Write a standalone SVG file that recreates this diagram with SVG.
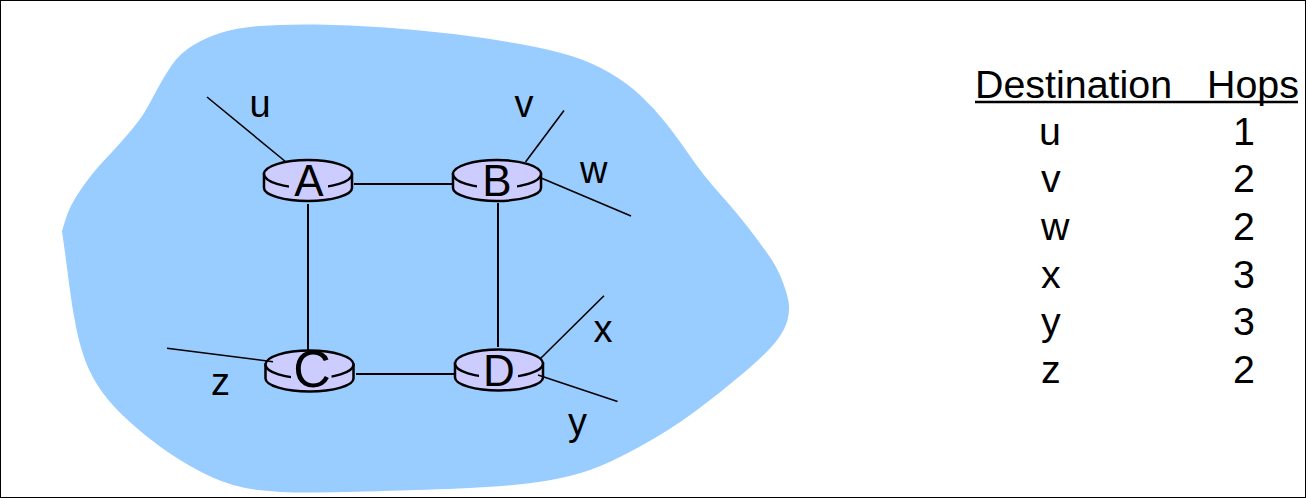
<svg xmlns="http://www.w3.org/2000/svg" width="1310" height="498" viewBox="0 0 1310 498">
<style>
text{font-family:"Liberation Sans",Arial,sans-serif;fill:#000}
.l{font-size:38px}
.r{font-size:44px;text-anchor:middle}
.t{font-size:39.4px}
.c line{stroke:#000;stroke-width:2}
.c line.s{stroke-width:1.6}
.body{fill:#ccccff;stroke:#000;stroke-width:2.5}
.hole{fill:#ccccff}
</style>
<defs>
<g id="router">
<path class="body" d="M-44-6V8C-44 15-24 21 0 21S44 15 44 8V-6Z"/>
<ellipse class="body" cx="0" cy="-6" rx="44" ry="14"/>
</g>
</defs>
<rect x="0.5" y="0.5" width="1305" height="497" fill="#fff" stroke="#000"/>
<path id="cloud" fill="#99ccff" d="M62 231L66 218Q70 205 81.5 188.5Q93 172 105 159.5Q117 147 128.5 133.5Q140 120 145 111.5Q150 103 156.5 90.5Q163 78 171.5 65.5Q180 53 193.5 45Q207 37 222 32.5Q237 28 260 26Q283 24 316 24.5Q350 25 385 27.5Q420 30 453.5 34Q487 38 520 44Q553 50 573 56.5Q593 63 610 73Q627 83 640 95Q653 107 665 122Q677 137 690 156Q703 175 720 194Q737 213 748.5 228Q760 243 768.5 255Q777 267 782 280Q787 293 788.5 301.5Q790 310 787.5 320Q785 330 776 341.5Q767 353 743.5 373Q720 393 695 411.5Q670 430 640 446.5Q610 463 590 470Q570 477 545 481Q520 485 486.5 487Q453 489 401.5 490.5Q350 492 316.5 492.5Q283 493 258 490Q233 487 211.5 477Q190 467 170 453.5Q150 440 131.5 423.5Q113 407 102.5 392.5Q92 378 86 362.5Q80 347 76 327Q72 307 69.5 287Q67 267 64.5 249Z"/>
<g id="node-A"><use href="#router" x="308" y="180"/><rect class="hole" x="289" y="178" width="39" height="14"/><text class="r" x="309" y="196">A</text></g>
<g id="node-B"><use href="#router" x="497" y="180"/><rect class="hole" x="477" y="178" width="40" height="14"/><text class="r" x="497" y="196">B</text></g>
<g id="node-C"><use href="#router" x="309.500" y="370.500"/><rect class="hole" x="291" y="368" width="40.500" height="14"/><text class="r" x="312" y="386.500" style="font-size:52px">C</text></g>
<g id="node-D"><use href="#router" x="499" y="369.500"/><rect class="hole" x="479" y="367" width="39" height="14"/><text class="r" x="499" y="385.500">D</text></g>
<g id="connectors" class="c">
<line class="s" x1="207" y1="97" x2="286" y2="162"/>
<line class="s" x1="564" y1="110.500" x2="525.500" y2="162"/>
<line class="s" x1="540" y1="177.500" x2="631" y2="216"/>
<line class="s" x1="167" y1="348.300" x2="273" y2="361.700"/>
<line class="s" x1="604" y1="295.700" x2="540.500" y2="358.500"/>
<line class="s" x1="538" y1="375" x2="617.500" y2="401.500"/>
<line x1="354" y1="184" x2="453" y2="184"/>
<line x1="356" y1="374" x2="455" y2="374"/>
<line x1="308" y1="204" x2="308" y2="350"/>
<line x1="498" y1="203" x2="498" y2="347"/>
</g>
<g id="labels">
<text class="l" x="249.500" y="116.500">u</text>
<text class="l" x="514.500" y="117">v</text>
<text class="l" x="580" y="183">w</text>
<text class="l" x="593.500" y="342">x</text>
<text class="l" x="568" y="435">y</text>
<text class="l" x="211" y="395">z</text>
</g>
<g id="table">
<text class="t" x="975" y="97.500">Destination</text>
<text class="t" x="1207" y="97.500">Hops</text>
<path d="M975 102H1298" stroke="#000" stroke-width="2.6"/>
<text class="t" x="1039" y="145">u</text><text class="t" x="1233" y="145">1</text>
<text class="t" x="1041" y="192">v</text><text class="t" x="1233" y="192">2</text>
<text class="t" x="1041" y="240">w</text><text class="t" x="1233" y="240">2</text>
<text class="t" x="1041" y="288">x</text><text class="t" x="1233" y="288">3</text>
<text class="t" x="1041" y="335">y</text><text class="t" x="1233" y="335">3</text>
<text class="t" x="1041" y="383">z</text><text class="t" x="1233" y="383">2</text>
</g>
</svg>
